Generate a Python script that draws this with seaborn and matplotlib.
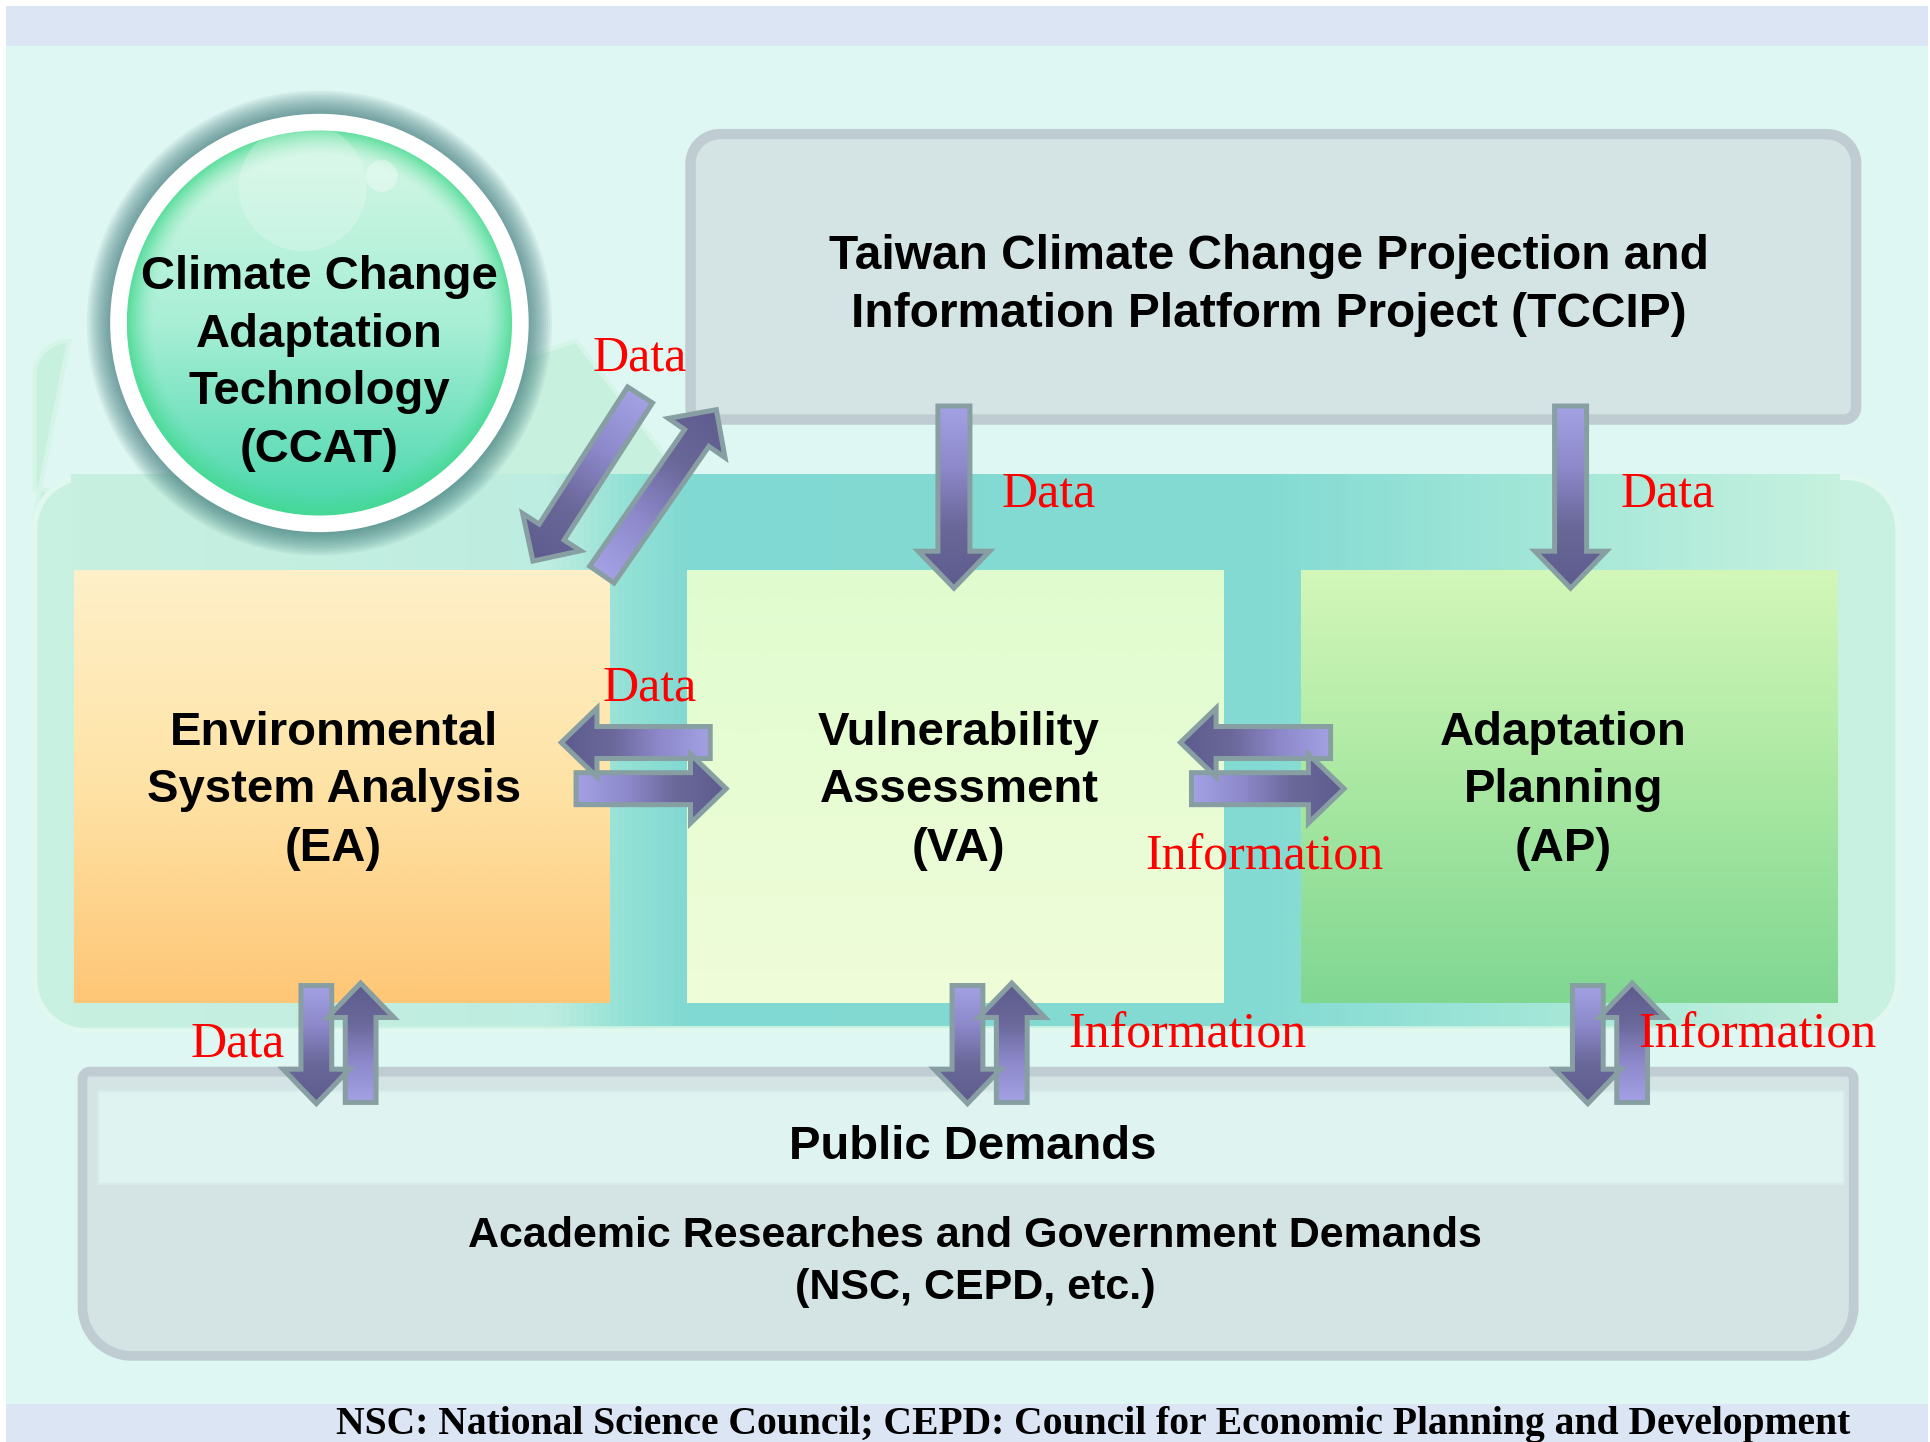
import numpy as np
import matplotlib
matplotlib.use("Agg")
import matplotlib.pyplot as plt
import seaborn as sns
from matplotlib.patches import Polygon, Circle, Rectangle
from matplotlib.colors import LinearSegmentedColormap, to_rgb

# ---------------- content ----------------
ccat_lines = ["Climate Change", "Adaptation", "Technology", "(CCAT)"]
tccip_lines = ["Taiwan Climate Change Projection and", "Information Platform Project (TCCIP)"]
box_lines = [["Environmental", "System Analysis", "(EA)"],
             ["Vulnerability", "Assessment", "(VA)"],
             ["Adaptation", "Planning", "(AP)"]]
public_label = "Public Demands"
academic_lines = ["Academic Researches and Government Demands", "(NSC, CEPD, etc.)"]
flow_labels = ["Data", "Data", "Data", "Data", "Information", "Data", "Information", "Information"]
footnote = "NSC: National Science Council; CEPD: Council for Economic Planning and Development"

# ---------------- layout (reference units 1568 x 1172) ----------------
W, H = 1568, 1172
box_x = [(60, 495), (558, 994), (1057, 1493)]
box_y = (463, 815)
box_cx = [271, 779, 1270]
box_line_y = [592, 638, 686]
box_grads = [["#fff0c9", "#fee3a6", "#fec676"],
             ["#e0fccf", "#e8fcd4", "#effdd8"],
             ["#d3f7b9", "#a9e8a2", "#80d792"]]
ccat_c, ccat_R, ccat_r = (259.5, 262.5), 170, 156.5
ccat_line_y = [221, 268, 315, 362]
tccip_line_y = [205, 252]
flow_pos = [(520, 288), (852, 398), (1355, 398), (528, 556), (1027, 693),
            (193, 845), (965, 838), (1428, 838)]

sns.set_theme(style="white")
plt.rcParams['font.family'] = ['Liberation Sans', 'DejaVu Sans']

fig = plt.figure(figsize=(19.3, 14.42), dpi=100)
ax = fig.add_axes([0, 0, 1, 1])
ax.axis('off')


def rr_path(x0, y0, x1, y1, rt, rb):
    pts = []
    def arc(cx, cy, r, a0, a1):
        a = np.linspace(a0, a1, 20)
        return list(zip(cx + r * np.cos(a), cy + r * np.sin(a)))
    pts += arc(x0 + rt, y0 + rt, rt, np.pi, 1.5 * np.pi)
    pts += arc(x1 - rt, y0 + rt, rt, 1.5 * np.pi, 2 * np.pi)
    pts += arc(x1 - rb, y1 - rb, rb, 0, 0.5 * np.pi)
    pts += arc(x0 + rb, y1 - rb, rb, 0.5 * np.pi, np.pi)
    return pts


def grad_image(patch, extent, colors, direction='v', z=1, stops=None):
    ax.add_patch(patch)
    if stops is None:
        cmap = sns.blend_palette(colors, as_cmap=True)
    else:
        cmap = LinearSegmentedColormap.from_list("g", list(zip(stops, colors)))
    x0, x1, y0, y1 = extent
    g = np.linspace(0, 1, 256)
    arr = g.reshape(-1, 1) if direction == 'v' else g.reshape(1, -1)
    im = ax.imshow(arr, origin='lower', extent=(x0, x1, y0, y1), cmap=cmap,
                   vmin=0, vmax=1, aspect='auto', interpolation='bilinear', zorder=z)
    im.set_clip_path(patch)
    return im


arrow_cmap = sns.blend_palette(["#a3a1e4", "#8d89cb", "#6a6799", "#5e5b8e"], as_cmap=True)


def arrow(start, end, shaft, head_w, head_l, z=8):
    S = np.array(start, float); E = np.array(end, float)
    d = E - S; L = np.hypot(*d); u = d / L; n = np.array([-u[1], u[0]])
    B = E - u * head_l
    pts = [S + n * shaft / 2, B + n * shaft / 2, B + n * head_w / 2, E,
           B - n * head_w / 2, B - n * shaft / 2, S - n * shaft / 2]
    clip = Polygon(pts, closed=True, fc='none', ec='none', zorder=z)
    ax.add_patch(clip)
    xs = [p[0] for p in pts]; ys = [p[1] for p in pts]
    bx0, bx1, by0, by1 = min(xs) - 2, max(xs) + 2, min(ys) - 2, max(ys) + 2
    X, Y = np.meshgrid(np.linspace(bx0, bx1, 90), np.linspace(by0, by1, 90))
    t = ((X - S[0]) * u[0] + (Y - S[1]) * u[1]) / L
    im = ax.imshow(np.clip(t, 0, 1), origin='lower', extent=(bx0, bx1, by0, by1),
                   cmap=arrow_cmap, vmin=0, vmax=1, aspect='auto',
                   interpolation='bilinear', zorder=z)
    im.set_clip_path(clip)
    ax.add_patch(Polygon(pts, closed=True, fc='none', ec='#879fa3', lw=3.6,
                         joinstyle='miter', zorder=z + 0.1))


# ---------------- background ----------------
ax.add_patch(Rectangle((5, 5), 1561, 1167, fc='#dff7f3', ec='none', zorder=0))
ax.add_patch(Rectangle((5, 5), 1561, 32, fc='#dbe5f4', ec='none', zorder=0.5))
ax.add_patch(Rectangle((5, 1141), 1561, 31, fc='#dbe5f4', ec='none', zorder=0.5))

# pale shape behind the circle
pale = rr_path(28, 277, 600, 420, 28, 0)
pale = [p for p in pale if p[0] < 470] + [(468, 277), (562, 398), (28, 398)]
ax.add_patch(Polygon(pale, closed=True, fc='#c8f0df', ec='#d6f5e9', lw=3, zorder=1))

# outer frame
ax.add_patch(Polygon(rr_path(28, 388, 1542, 838, 42, 42), closed=True,
                     fc='#c8f1e1', ec='#e0f8ef', lw=4, zorder=1.2))
# teal band
teal = Polygon([(58, 385), (1495, 385), (1495, 834), (58, 834)], closed=True,
               fc='none', ec='none')
grad_image(teal, (58, 1495, 385, 834),
           ["#c8f0e1", "#bdede0", "#95e1d6", "#80d9d2", "#84dbd3", "#a6e8d8", "#c6f1df"],
           direction='h', z=1.4, stops=[0, 0.27, 0.31, 0.35, 0.68, 0.85, 1])

# ---------------- boxes ----------------
for (x0, x1), cols in zip(box_x, box_grads):
    p = Rectangle((x0, box_y[0]), x1 - x0, box_y[1] - box_y[0], fc='none', ec='none')
    grad_image(p, (x0, x1, box_y[0], box_y[1]), cols, 'v', z=2)

# TCCIP box
ax.add_patch(Polygon(rr_path(561, 109, 1508, 341, 24, 10), closed=True,
                     fc='#d4e3e3', ec='#bfcdd2', lw=7.5, zorder=2))

# bottom box
ax.add_patch(Polygon(rr_path(67, 871, 1506, 1102, 6, 40), closed=True,
                     fc='#d4e3e3', ec='#bfcdd2', lw=7, zorder=2))
ax.add_patch(Rectangle((80, 887), 1418, 75, fc='#dff4f1', ec='#d6ecea', lw=1.5, zorder=2.1))

# ---------------- CCAT circle ----------------
cx, cy = ccat_c
for r in np.linspace(189, 171, 12):
    ax.add_patch(Circle((cx, cy), r, fc='#2d6c6e', ec='none', alpha=0.07, zorder=3))
ax.add_patch(Circle((cx, cy), ccat_R, fc='white', ec='none', zorder=3.2))
inner = Circle((cx, cy), ccat_r, fc='none', ec='none', zorder=3.3)
ax.add_patch(inner)
n = 300
gx = np.linspace(cx - ccat_r, cx + ccat_r, n)
gy = np.linspace(cy - ccat_r, cy + ccat_r, n)
X, Y = np.meshgrid(gx, gy)
rn = np.hypot(X - cx, Y - cy) / ccat_r
v = (Y - (cy - ccat_r)) / (2 * ccat_r)
top, mid, bot = np.array(to_rgb("#d6f7e6")), np.array(to_rgb("#a8efd6")), np.array(to_rgb("#48d6ac"))
v3 = v[..., None]
base = np.where(v3 < 0.5, top + (mid - top) * (v3 / 0.5), mid + (bot - mid) * ((v3 - 0.5) / 0.5))
rim = np.array(to_rgb("#44d98e"))
w = np.clip((rn - 0.86) / 0.14, 0, 1)[..., None] ** 1.5 * 0.8
img = base * (1 - w) + rim * w
im = ax.imshow(np.clip(img, 0, 1), origin='lower', extent=(gx[0], gx[-1], gy[0], gy[-1]),
               aspect='auto', interpolation='bilinear', zorder=3.3)
im.set_clip_path(inner)
ax.add_patch(Circle((246, 152), 52, fc='white', ec='none', alpha=0.22, zorder=3.4))
ax.add_patch(Circle((310, 143), 13, fc='white', ec='none', alpha=0.35, zorder=3.4))

# ---------------- arrows ----------------
arrow((520, 321), (433, 456), 24, 56, 28)
arrow((489, 467), (582, 333), 24, 56, 28)
arrow((775, 330), (775, 478), 26, 58, 30)
arrow((1276, 330), (1276, 478), 26, 58, 30)
arrow((577, 603.5), (456, 603.5), 26, 56, 29)
arrow((468, 641), (590, 641), 26, 56, 29)
arrow((1081, 603.5), (959, 603.5), 26, 56, 29)
arrow((968, 641), (1092, 641), 26, 56, 29)
for c in [275, 804, 1308]:
    arrow((c - 18, 801), (c - 18, 897), 25, 54, 28)
    arrow((c + 18, 896), (c + 18, 799), 25, 54, 28)

# ---------------- text ----------------
def lines(xc, ys, texts, size, half, **kw):
    for y, t in zip(ys, texts):
        ax.text(xc, y + half, t, ha='center', va='baseline', fontsize=size, zorder=10, **kw)

lines(cx, ccat_line_y, ccat_lines, 34, 13.7, fontweight='bold', color='black')
lines(1031, tccip_line_y, tccip_lines, 34.5, 13.9, fontweight='bold', color='black')
for xc, tl in zip(box_cx, box_lines):
    lines(xc, box_line_y, tl, 34, 13.7, fontweight='bold', color='black')
lines(790, [928], [public_label], 34, 13.7, fontweight='bold', color='black')
lines(792, [1001, 1043], academic_lines, 31, 12.5, fontweight='bold', color='black')

for (x, y), t in zip(flow_pos, flow_labels):
    ax.text(x, y + 13.4, t, ha='center', va='baseline', fontsize=36, color='#ff0000',
            family=['Liberation Serif', 'DejaVu Serif'], zorder=11)

ax.text(888, 1155 + 10.6, footnote, ha='center', va='baseline', fontsize=28.5,
        fontweight='bold', color='black', family=['Liberation Serif', 'DejaVu Serif'], zorder=11)

ax.set_xlim(0, W)
ax.set_ylim(H, 0)
fig.savefig("out.png", dpi=100, facecolor='white')
